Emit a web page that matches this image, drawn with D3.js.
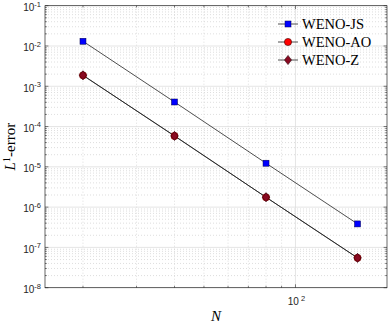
<!DOCTYPE html>
<html><head><meta charset="utf-8">
<script src="https://cdn.jsdelivr.net/npm/d3@7"></script>
<style>body{margin:0;background:#fff}svg{display:block}</style>
</head><body>
<script>
const N = [20, 40, 80, 160];
const wenoJS = [1.31e-2, 4.07e-4, 1.23e-5, 3.83e-7];
const wenoAO = [1.87e-3, 5.85e-5, 1.76e-6, 5.5e-8];
const wenoZ  = [1.87e-3, 5.85e-5, 1.76e-6, 5.5e-8];
const seriesNames = ["WENO-JS", "WENO-AO", "WENO-Z"];
const yTickExp = [-1, -2, -3, -4, -5, -6, -7, -8];
const xTickExp = [2];
const xDomain = [15, 200];
const yDomain = [1e-8, 1e-1];

const W = 388, H = 322;
const m = {l: 45, r: 387, t: 5.7, b: 287.7};
const svg = d3.select("body").append("svg").attr("width", W).attr("height", H);
const x = d3.scaleLog().domain(xDomain).range([m.l, m.r]);
const y = d3.scaleLog().domain(yDomain).range([m.b, m.t]);
const axc = "#262626";

// minor grid
const xMinor = [20,30,40,50,60,70,80,90];
const yMinor = [];
for (let e = -8; e < -1; e++) for (let k = 2; k <= 9; k++) yMinor.push(k * Math.pow(10, e));
const g = svg.append("g");
g.selectAll(".xm").data(xMinor).join("line")
  .attr("x1", d => x(d)).attr("x2", d => x(d)).attr("y1", m.t).attr("y2", m.b)
  .attr("stroke", "#c8c8c8").attr("stroke-width", 0.6).attr("stroke-dasharray", "1,2");
g.selectAll(".ym").data(yMinor).join("line")
  .attr("x1", m.l).attr("x2", m.r).attr("y1", d => y(d)).attr("y2", d => y(d))
  .attr("stroke", "#c8c8c8").attr("stroke-width", 0.6).attr("stroke-dasharray", "1,2");
// major grid
g.selectAll(".xM").data(xTickExp).join("line")
  .attr("x1", d => x(Math.pow(10, d))).attr("x2", d => x(Math.pow(10, d))).attr("y1", m.t).attr("y2", m.b)
  .attr("stroke", "#dedede").attr("stroke-width", 0.8);
g.selectAll(".yM").data(yTickExp).join("line")
  .attr("x1", m.l).attr("x2", m.r).attr("y1", d => y(Math.pow(10, d))).attr("y2", d => y(Math.pow(10, d)))
  .attr("stroke", "#dedede").attr("stroke-width", 0.8);

// ticks inside
const tk = svg.append("g").attr("stroke", axc).attr("stroke-width", 0.6);
yTickExp.forEach(e => {
  const yy = y(Math.pow(10, e));
  tk.append("line").attr("x1", m.l).attr("x2", m.l + 3.4).attr("y1", yy).attr("y2", yy);
  tk.append("line").attr("x1", m.r).attr("x2", m.r - 3.4).attr("y1", yy).attr("y2", yy);
});
yMinor.forEach(v => {
  const yy = y(v);
  tk.append("line").attr("x1", m.l).attr("x2", m.l + 1.8).attr("y1", yy).attr("y2", yy);
  tk.append("line").attr("x1", m.r).attr("x2", m.r - 1.8).attr("y1", yy).attr("y2", yy);
});
xTickExp.forEach(e => {
  const xx = x(Math.pow(10, e));
  tk.append("line").attr("x1", xx).attr("x2", xx).attr("y1", m.b).attr("y2", m.b - 3.4);
  tk.append("line").attr("x1", xx).attr("x2", xx).attr("y1", m.t).attr("y2", m.t + 3.4);
});
xMinor.forEach(v => {
  const xx = x(v);
  tk.append("line").attr("x1", xx).attr("x2", xx).attr("y1", m.b).attr("y2", m.b - 1.8);
  tk.append("line").attr("x1", xx).attr("x2", xx).attr("y1", m.t).attr("y2", m.t + 1.8);
});

// box
svg.append("rect").attr("x", m.l).attr("y", m.t).attr("width", m.r - m.l).attr("height", m.b - m.t)
  .attr("fill", "none").attr("stroke", axc).attr("stroke-width", 0.7);

// tick labels
const sans = "'Liberation Sans', Arial, sans-serif";
yTickExp.forEach(e => {
  const t = svg.append("text").attr("x", 41).attr("y", y(Math.pow(10, e)) + 5.3)
    .attr("text-anchor", "end").attr("font-family", sans).attr("font-size", 10).attr("fill", axc);
  t.append("tspan").text("10");
  t.append("tspan").attr("dy", -4.5).attr("font-size", 7.5).text("-" + Math.abs(e));
});
xTickExp.forEach(e => {
  const t = svg.append("text").attr("x", x(Math.pow(10, e)) + 1).attr("y", 305)
    .attr("text-anchor", "middle").attr("font-family", sans).attr("font-size", 10).attr("fill", axc);
  t.append("tspan").text("10");
  t.append("tspan").attr("dy", -4.5).attr("font-size", 7.5).text(" " + e);
});

// axis labels
const serif = "'Liberation Serif', 'Times New Roman', serif";
const yl = svg.append("text").attr("transform", `translate(15,${(m.t + m.b) / 2}) rotate(-90)`)
  .attr("text-anchor", "middle").attr("font-family", serif).attr("font-size", 15).attr("fill", "#000");
yl.append("tspan").attr("font-style", "italic").text("L");
yl.append("tspan").attr("dy", -5).attr("font-size", 10.5).text("1");
yl.append("tspan").attr("dy", 5).text("-error");
svg.append("text").attr("x", (m.l + m.r) / 2).attr("y", 320.5).attr("text-anchor", "middle")
  .attr("font-family", serif).attr("font-size", 15).attr("font-style", "italic").attr("fill", "#000").text("N");

// lines & markers
const line = d3.line().x(d => x(d[0])).y(d => y(d[1]));
const pts = arr => N.map((n, i) => [n, arr[i]]);
[wenoJS, wenoAO, wenoZ].forEach(arr => {
  svg.append("path").attr("d", line(pts(arr))).attr("fill", "none").attr("stroke", "#222").attr("stroke-width", 0.8);
});
function square(sel, cx, cy) {
  sel.append("rect").attr("x", cx - 3).attr("y", cy - 3).attr("width", 6).attr("height", 6)
    .attr("fill", "#0000ff").attr("stroke", "#000050").attr("stroke-width", 0.5);
}
function circle(sel, cx, cy) {
  sel.append("circle").attr("cx", cx).attr("cy", cy).attr("r", 3.6)
    .attr("fill", "#ff0000").attr("stroke", "#400000").attr("stroke-width", 0.6);
}
function diamond(sel, cx, cy) {
  sel.append("path").attr("d", `M${cx},${cy - 4.6}L${cx + 3.5},${cy}L${cx},${cy + 4.6}L${cx - 3.5},${cy}Z`)
    .attr("fill", "#8a0a22").attr("stroke", "#300008").attr("stroke-width", 0.6);
}
const mk = svg.append("g");
pts(wenoJS).forEach(d => square(mk, x(d[0]), y(d[1])));
pts(wenoAO).forEach(d => circle(mk, x(d[0]), y(d[1])));
pts(wenoZ).forEach(d => diamond(mk, x(d[0]), y(d[1])));

// legend
const lg = svg.append("g");
const fns = [square, circle, diamond];
seriesNames.forEach((name, i) => {
  const cy = 24 + i * 18;
  lg.append("line").attr("x1", 278).attr("x2", 298).attr("y1", cy).attr("y2", cy).attr("stroke", "#222").attr("stroke-width", 0.8);
  fns[i](lg, 288, cy);
  lg.append("text").attr("x", 302).attr("y", cy + 5).attr("font-family", serif).attr("font-size", 14.5)
    .attr("fill", "#000").text(name);
});
</script>
</body></html>
